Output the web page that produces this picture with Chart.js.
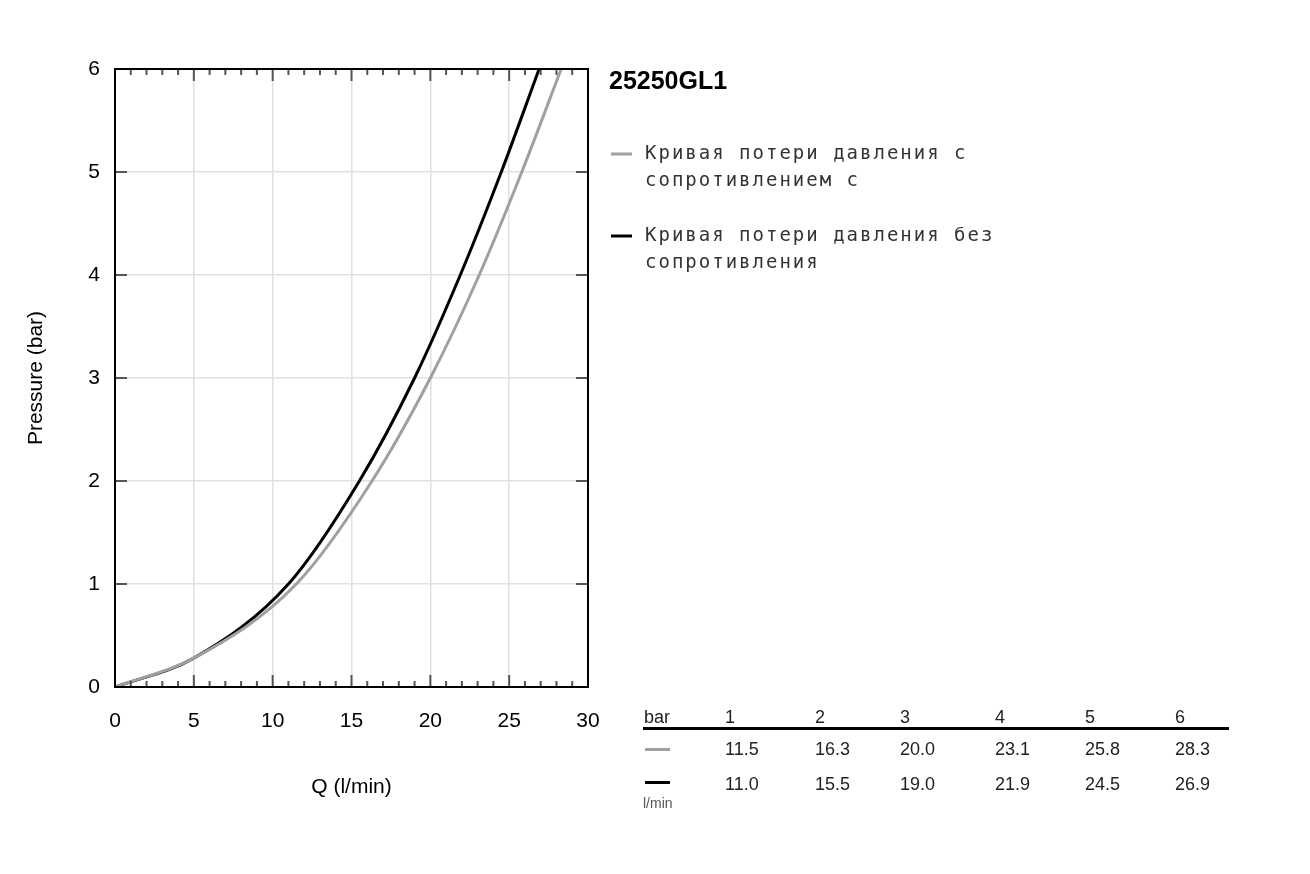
<!DOCTYPE html>
<html><head><meta charset="utf-8">
<script src="https://cdn.jsdelivr.net/npm/chart.js@4"></script>
<style>html,body{margin:0;background:#fff}#wrap{width:1310px;height:874px}</style>
</head><body><div id="wrap"><canvas id="c"></canvas></div>
<script>
const title = "25250GL1";
const legendLabels = [
    ["Кривая потери давления с", "сопротивлением с"],
    ["Кривая потери давления без", "сопротивления"]
];
const seriesColors = ["#a0a0a0", "#000000"];
// flow (l/min) at pressure (bar)
const pressureGrey = [0, 0.28, 1, 2, 3, 4, 5, 6];
const flowGrey = [0, 5, 11.5, 16.3, 20.0, 23.1, 25.8, 28.3];
const pressureBlack = [0, 0.28, 1, 2, 3, 4, 5, 6];
const flowBlack = [0, 5, 11.0, 15.5, 19.0, 21.9, 24.5, 26.9];
const tableHeader = ["1", "2", "3", "4", "5", "6"];
const tableGrey = ["11.5", "16.3", "20.0", "23.1", "25.8", "28.3"];
const tableBlack = ["11.0", "15.5", "19.0", "21.9", "24.5", "26.9"];

const SANS = "'Liberation Sans', Arial, sans-serif";
const MONO = "'DejaVu Sans Mono', monospace";

const innerTicks = {
    id: "innerTicks",
    afterDatasetsDraw(chart) {
        const {ctx, chartArea: a, scales: {x, y}} = chart;
        ctx.save();
        ctx.strokeStyle = "#555";
        ctx.lineWidth = 2;
        for (let v = 0; v <= 30; v++) {
            const px = x.getPixelForValue(v);
            const len = v % 5 === 0 ? 12 : 6;
            ctx.beginPath();
            ctx.moveTo(px, a.top); ctx.lineTo(px, a.top + len);
            ctx.moveTo(px, a.bottom); ctx.lineTo(px, a.bottom - len);
            ctx.stroke();
        }
        for (let v = 0; v <= 6; v++) {
            const py = y.getPixelForValue(v);
            ctx.beginPath();
            ctx.moveTo(a.left, py); ctx.lineTo(a.left + 12, py);
            ctx.moveTo(a.right, py); ctx.lineTo(a.right - 12, py);
            ctx.stroke();
        }
        ctx.strokeStyle = "#000";
        ctx.lineWidth = 2;
        ctx.strokeRect(a.left, a.top, a.right - a.left, a.bottom - a.top);
        ctx.restore();
    }
};

const sideText = {
    id: "sideText",
    afterDraw(chart) {
        const ctx = chart.ctx;
        ctx.save();
        ctx.textBaseline = "middle";
        ctx.fillStyle = "#000";
        ctx.font = "bold 25px " + SANS;
        ctx.fillText(title, 609, 82);

        ctx.font = "19px " + MONO;
        ctx.letterSpacing = "2px";
        const legY = [154, 236];
        legendLabels.forEach((lines, i) => {
            ctx.fillStyle = seriesColors[i];
            ctx.fillRect(611, legY[i] - 1.5, 21, 3);
            ctx.fillStyle = "#333";
            lines.forEach((t, j) => ctx.fillText(t, 645, legY[i] + j * 27));
        });
        ctx.letterSpacing = "0px";

        const cols = [725, 815, 900, 995, 1085, 1175];
        ctx.font = "18px " + SANS;
        ctx.fillStyle = "#222";
        ctx.fillText("bar", 644, 718);
        tableHeader.forEach((t, i) => ctx.fillText(t, cols[i], 718));
        ctx.fillStyle = "#000";
        ctx.fillRect(643, 727, 586, 3);
        ctx.fillStyle = seriesColors[0];
        ctx.fillRect(645, 748, 25, 3);
        ctx.fillStyle = seriesColors[1];
        ctx.fillRect(645, 781, 25, 3);
        ctx.fillStyle = "#222";
        tableGrey.forEach((t, i) => ctx.fillText(t, cols[i], 750));
        tableBlack.forEach((t, i) => ctx.fillText(t, cols[i], 785));
        ctx.font = "14px " + SANS;
        ctx.fillStyle = "#555";
        ctx.fillText("l/min", 643, 804);
        ctx.restore();
    }
};

new Chart(document.getElementById("c"), {
    type: "line",
    data: {
        datasets: [
            {
                data: flowGrey.map((f, i) => ({x: f, y: pressureGrey[i]})),
                borderColor: seriesColors[0], borderWidth: 3
            },
            {
                data: flowBlack.map((f, i) => ({x: f, y: pressureBlack[i]})),
                borderColor: seriesColors[1], borderWidth: 3
            }
        ]
    },
    options: {
        responsive: true,
        maintainAspectRatio: false,
        animation: false,
        events: [],
        layout: {padding: {top: 69, right: 722, left: 0, bottom: 0}},
        elements: {point: {radius: 0}, line: {cubicInterpolationMode: "monotone"}},
        plugins: {legend: {display: false}, tooltip: {enabled: false}},
        scales: {
            x: {
                type: "linear", min: 0, max: 30,
                afterFit: s => { s.height = 187; },
                ticks: {stepSize: 5, padding: 22, color: "#000", font: {family: SANS, size: 21}},
                grid: {color: "#e0e0e6", lineWidth: 1.5, drawTicks: false},
                border: {display: false},
                title: {display: true, text: "Q (l/min)", color: "#000", font: {family: SANS, size: 21}, padding: {top: 0, bottom: 74}}
            },
            y: {
                type: "linear", min: 0, max: 6,
                afterFit: s => { s.width = 115; },
                ticks: {stepSize: 1, padding: 15, color: "#000", font: {family: SANS, size: 21}},
                grid: {color: "#e0e0e6", lineWidth: 1.5, drawTicks: false},
                border: {display: false},
                title: {display: true, text: "Pressure (bar)", color: "#000", font: {family: SANS, size: 21}, padding: {top: 24, bottom: 0}}
            }
        }
    },
    plugins: [innerTicks, sideText]
});
</script></body></html>
